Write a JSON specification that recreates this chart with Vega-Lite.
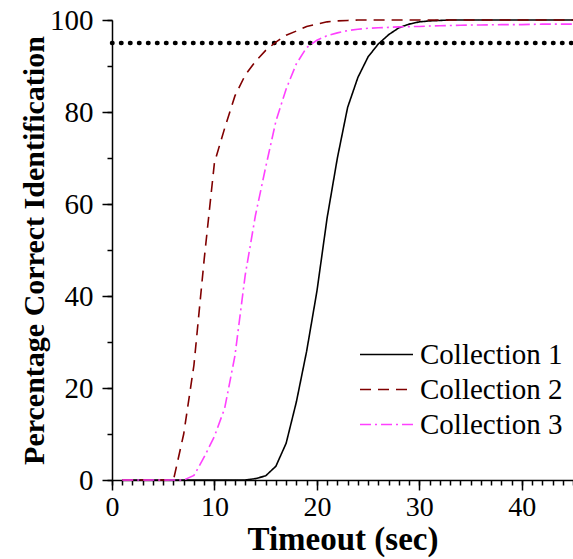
{
  "$schema": "https://vega.github.io/schema/vega-lite/v6.json",
  "width": 461,
  "height": 460,
  "autosize": {"type": "none"},
  "padding": {"left": 112, "top": 20, "right": 0, "bottom": 79},
  "config": {
    "view": {"stroke": null},
    "font": "Liberation Serif",
    "axis": {"grid": false, "domainColor": "#000", "tickColor": "#000", "labelColor": "#000", "titleColor": "#000", "domainWidth": 1.5, "tickWidth": 1.5, "labelFont": "Liberation Serif", "titleFont": "Liberation Serif"},
    "legend": {"labelFont": "Liberation Serif"}
  },
  "datasets": {
    "curves": [
      {"t":1,"pct":0,"series":"Collection 1"},{"t":2,"pct":0,"series":"Collection 1"},{"t":3,"pct":0,"series":"Collection 1"},{"t":4,"pct":0,"series":"Collection 1"},{"t":5,"pct":0,"series":"Collection 1"},{"t":6,"pct":0,"series":"Collection 1"},{"t":7,"pct":0,"series":"Collection 1"},{"t":8,"pct":0,"series":"Collection 1"},{"t":9,"pct":0,"series":"Collection 1"},{"t":10,"pct":0,"series":"Collection 1"},{"t":11,"pct":0,"series":"Collection 1"},{"t":12,"pct":0,"series":"Collection 1"},{"t":13,"pct":0,"series":"Collection 1"},{"t":14,"pct":0.3,"series":"Collection 1"},{"t":15,"pct":0.9,"series":"Collection 1"},{"t":16,"pct":3,"series":"Collection 1"},{"t":17,"pct":8,"series":"Collection 1"},{"t":18,"pct":17,"series":"Collection 1"},{"t":19,"pct":28,"series":"Collection 1"},{"t":20,"pct":41,"series":"Collection 1"},{"t":21,"pct":57,"series":"Collection 1"},{"t":22,"pct":70,"series":"Collection 1"},{"t":23,"pct":81,"series":"Collection 1"},{"t":24,"pct":87.5,"series":"Collection 1"},{"t":25,"pct":92,"series":"Collection 1"},{"t":26,"pct":94.8,"series":"Collection 1"},{"t":27,"pct":96.8,"series":"Collection 1"},{"t":28,"pct":98.3,"series":"Collection 1"},{"t":29,"pct":99.1,"series":"Collection 1"},{"t":30,"pct":99.6,"series":"Collection 1"},{"t":31,"pct":99.8,"series":"Collection 1"},{"t":32,"pct":99.9,"series":"Collection 1"},{"t":33,"pct":100,"series":"Collection 1"},{"t":34,"pct":100,"series":"Collection 1"},{"t":35,"pct":100,"series":"Collection 1"},{"t":36,"pct":100,"series":"Collection 1"},{"t":37,"pct":100,"series":"Collection 1"},{"t":38,"pct":100,"series":"Collection 1"},{"t":39,"pct":100,"series":"Collection 1"},{"t":40,"pct":100,"series":"Collection 1"},{"t":41,"pct":100,"series":"Collection 1"},{"t":42,"pct":100,"series":"Collection 1"},{"t":43,"pct":100,"series":"Collection 1"},{"t":44,"pct":100,"series":"Collection 1"},{"t":45,"pct":100,"series":"Collection 1"},
      {"t":1,"pct":0,"series":"Collection 2"},{"t":2,"pct":0,"series":"Collection 2"},{"t":3,"pct":0,"series":"Collection 2"},{"t":4,"pct":0,"series":"Collection 2"},{"t":5,"pct":0,"series":"Collection 2"},{"t":6,"pct":0,"series":"Collection 2"},{"t":7,"pct":10,"series":"Collection 2"},{"t":8,"pct":25,"series":"Collection 2"},{"t":9,"pct":48,"series":"Collection 2"},{"t":10,"pct":69,"series":"Collection 2"},{"t":11,"pct":76.5,"series":"Collection 2"},{"t":12,"pct":83.5,"series":"Collection 2"},{"t":13,"pct":88,"series":"Collection 2"},{"t":14,"pct":91,"series":"Collection 2"},{"t":15,"pct":93.4,"series":"Collection 2"},{"t":16,"pct":95.2,"series":"Collection 2"},{"t":17,"pct":96.7,"series":"Collection 2"},{"t":18,"pct":97.6,"series":"Collection 2"},{"t":19,"pct":98.6,"series":"Collection 2"},{"t":20,"pct":99.1,"series":"Collection 2"},{"t":21,"pct":99.6,"series":"Collection 2"},{"t":22,"pct":99.8,"series":"Collection 2"},{"t":23,"pct":99.9,"series":"Collection 2"},{"t":24,"pct":100,"series":"Collection 2"},{"t":25,"pct":100,"series":"Collection 2"},{"t":26,"pct":100,"series":"Collection 2"},{"t":27,"pct":100,"series":"Collection 2"},{"t":28,"pct":100,"series":"Collection 2"},{"t":29,"pct":100,"series":"Collection 2"},{"t":30,"pct":100,"series":"Collection 2"},{"t":31,"pct":100,"series":"Collection 2"},{"t":32,"pct":100,"series":"Collection 2"},{"t":33,"pct":100,"series":"Collection 2"},{"t":34,"pct":100,"series":"Collection 2"},{"t":35,"pct":100,"series":"Collection 2"},{"t":36,"pct":100,"series":"Collection 2"},{"t":37,"pct":100,"series":"Collection 2"},{"t":38,"pct":100,"series":"Collection 2"},{"t":39,"pct":100,"series":"Collection 2"},{"t":40,"pct":100,"series":"Collection 2"},{"t":41,"pct":100,"series":"Collection 2"},{"t":42,"pct":100,"series":"Collection 2"},{"t":43,"pct":100,"series":"Collection 2"},{"t":44,"pct":100,"series":"Collection 2"},{"t":45,"pct":100,"series":"Collection 2"},
      {"t":1,"pct":0,"series":"Collection 3"},{"t":2,"pct":0,"series":"Collection 3"},{"t":3,"pct":0,"series":"Collection 3"},{"t":4,"pct":0,"series":"Collection 3"},{"t":5,"pct":0,"series":"Collection 3"},{"t":6,"pct":0,"series":"Collection 3"},{"t":7,"pct":0,"series":"Collection 3"},{"t":8,"pct":1,"series":"Collection 3"},{"t":9,"pct":5,"series":"Collection 3"},{"t":10,"pct":9.5,"series":"Collection 3"},{"t":11,"pct":15.6,"series":"Collection 3"},{"t":12,"pct":27,"series":"Collection 3"},{"t":13,"pct":44.5,"series":"Collection 3"},{"t":14,"pct":57.5,"series":"Collection 3"},{"t":15,"pct":68,"series":"Collection 3"},{"t":16,"pct":78,"series":"Collection 3"},{"t":17,"pct":85,"series":"Collection 3"},{"t":18,"pct":90.5,"series":"Collection 3"},{"t":19,"pct":94,"series":"Collection 3"},{"t":20,"pct":95.6,"series":"Collection 3"},{"t":21,"pct":96.6,"series":"Collection 3"},{"t":22,"pct":97.2,"series":"Collection 3"},{"t":23,"pct":97.7,"series":"Collection 3"},{"t":24,"pct":98,"series":"Collection 3"},{"t":25,"pct":98.2,"series":"Collection 3"},{"t":26,"pct":98.3,"series":"Collection 3"},{"t":27,"pct":98.4,"series":"Collection 3"},{"t":28,"pct":98.5,"series":"Collection 3"},{"t":29,"pct":98.55,"series":"Collection 3"},{"t":30,"pct":98.6,"series":"Collection 3"},{"t":31,"pct":98.7,"series":"Collection 3"},{"t":32,"pct":98.75,"series":"Collection 3"},{"t":33,"pct":98.8,"series":"Collection 3"},{"t":34,"pct":98.85,"series":"Collection 3"},{"t":35,"pct":98.9,"series":"Collection 3"},{"t":36,"pct":98.9,"series":"Collection 3"},{"t":37,"pct":98.95,"series":"Collection 3"},{"t":38,"pct":99,"series":"Collection 3"},{"t":39,"pct":99,"series":"Collection 3"},{"t":40,"pct":99,"series":"Collection 3"},{"t":41,"pct":99.05,"series":"Collection 3"},{"t":42,"pct":99.1,"series":"Collection 3"},{"t":43,"pct":99.1,"series":"Collection 3"},{"t":44,"pct":99.1,"series":"Collection 3"},{"t":45,"pct":99.1,"series":"Collection 3"}
    ],
    "threshold": [{"level": 95}]
  },
  "layer": [
    {
      "data": {"name": "threshold"},
      "mark": {"type": "rule", "color": "#000", "strokeWidth": 4.5, "strokeDash": [0.5, 8.5], "strokeCap": "round"},
      "encoding": {
        "x": {"datum": 0, "type": "quantitative", "scale": {"domain": [0, 45], "nice": false},
          "axis": {"orient": "bottom", "values": [0,1,2,3,4,5,6,7,8,9,10,11,12,13,14,15,16,17,18,19,20,21,22,23,24,25,26,27,28,29,30,31,32,33,34,35,36,37,38,39,40,41,42,43,44,45], "tickSize": 5, "labels": false, "domain": false, "title": null}},
        "x2": {"datum": 45},
        "y": {"field": "level", "type": "quantitative", "scale": {"domain": [0, 100], "nice": false},
          "axis": {"orient": "left", "values": [0,10,20,30,40,50,60,70,80,90,100], "tickSize": 5, "labels": false, "domain": false, "title": null}}
      }
    },
    {
      "data": {"name": "curves"},
      "mark": {"type": "line", "strokeWidth": 1.6},
      "encoding": {
        "x": {"field": "t", "type": "quantitative", "scale": {"domain": [0, 45], "nice": false},
          "axis": {"orient": "bottom", "values": [0,10,20,30,40], "tickSize": 10, "labelFontSize": 28, "labelPadding": 3, "labelFlush": false, "title": "Timeout (sec)", "titleFontSize": 33, "titleFontWeight": "bold", "titlePadding": 2}},
        "y": {"field": "pct", "type": "quantitative", "scale": {"domain": [0, 100], "nice": false},
          "axis": {"orient": "left", "values": [0,20,40,60,80,100], "tickSize": 10, "labelFontSize": 29, "labelPadding": 9, "labelFlush": false, "title": "Percentage Correct Identification", "titleFontSize": 30, "titleFontWeight": "bold", "titlePadding": 0}},
        "color": {"field": "series", "type": "nominal",
          "scale": {"domain": ["Collection 1", "Collection 2", "Collection 3"], "range": ["#000000", "#800000", "#ff40ff"]},
          "legend": {"orient": "none", "legendX": 260, "legendY": 320, "title": null, "symbolType": "M-4,0H4", "symbolSize": 175.6, "symbolStrokeWidth": 1.6, "labelFontSize": 29, "labelOffset": 19, "rowPadding": 5, "padding": 0, "labelColor": "#000"}},
        "strokeDash": {"field": "series", "type": "nominal",
          "scale": {"domain": ["Collection 1", "Collection 2", "Collection 3"], "range": [[1, 0], [11, 7], [11, 4, 2, 4]]}}
      }
    }
  ],
  "resolve": {"axis": {"x": "independent", "y": "independent"}}
}
